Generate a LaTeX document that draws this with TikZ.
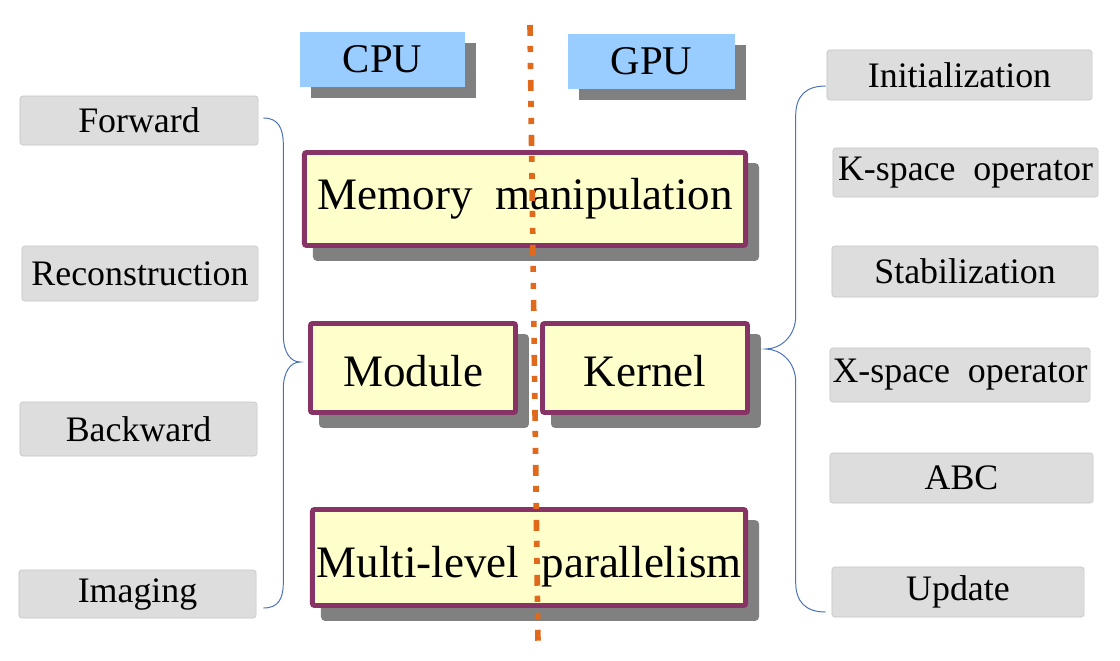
\documentclass[tikz,border=0pt]{standalone}
\usepackage{fontspec}
\setmainfont{Liberation Serif}
\usetikzlibrary{shadows,calc}
\definecolor{unitblue}{HTML}{99CCFF}
\definecolor{partpurple}{HTML}{883366}
\definecolor{partyellow}{HTML}{FFFFCC}
\definecolor{lblgray}{HTML}{DDDDDD}
\definecolor{lblline}{HTML}{C4C4C4}
\definecolor{braceblue}{HTML}{4A72B8}
\definecolor{seporange}{HTML}{E0691C}
\begin{document}
\begin{tikzpicture}[x=0.025cm,y=-0.025cm,
	lbl/.style={draw=lblline,fill=lblgray,rounded corners=2pt,inner sep=0pt,font=\fontsize{25.5}{28}\selectfont},
	unit/.style={fill=unitblue,inner sep=0pt,minimum height=1.375cm,font=\fontsize{29}{32}\selectfont,
		drop shadow={shadow xshift=0.275cm,shadow yshift=-0.275cm,fill=black!50,opacity=1}},
	part/.style={draw=partpurple,line width=3.5pt,fill=partyellow,rounded corners=1.5pt,inner sep=0pt,font=\fontsize{32}{36}\selectfont,
		drop shadow={shadow xshift=0.275cm,shadow yshift=-0.325cm,fill=black!50,draw=black!50,line width=3.5pt,opacity=1}},
	brace/.style={draw=braceblue,line width=0.7pt},
	sep/.style={draw=seporange,line width=4pt,dash pattern=on 7.8pt off 7.1pt on 4.3pt off 7.8pt on 4.3pt off 7.8pt}]
	\useasboundingbox (0,0) rectangle (1120,660);
	\node[unit,minimum width=4.125cm] (cpu) at (382.5,59.5) {CPU};
	\node[unit,minimum width=4.175cm] (gpu) at (651.5,61.5) {GPU};
	\node[part,minimum width=11.025cm,minimum height=2.325cm] (mem) at (525,199) {Memory~ manipulation};
	\node[part,minimum width=5.125cm,minimum height=2.225cm] (mod) at (413,368) {\raisebox{-2pt}[\height][\depth]{Module}};
	\node[part,minimum width=5.125cm,minimum height=2.225cm] (ker) at (645,368) {\raisebox{-2pt}[\height][\depth]{Kernel}};
	\node[part,minimum width=10.825cm,minimum height=2.4cm] (mlp) at (529,557.5) {\raisebox{-6.5pt}[\height][\depth]{Multi-level~ parallelism}};
	\node[lbl,minimum width=5.95cm,minimum height=1.225cm] (fwd) at (139,120.5) {Forward};
	\node[lbl,minimum width=5.9cm,minimum height=1.375cm] (rec) at (140,273.5) {Reconstruction};
	\node[lbl,minimum width=5.925cm,minimum height=1.35cm] (bwd) at (138.5,429) {Backward};
	\node[lbl,minimum width=5.925cm,minimum height=1.2cm] (img) at (137.5,594) {Imaging};
	\node[lbl,minimum width=6.625cm,minimum height=1.25cm] (init) at (959.5,75) {Initialization};
	\node[lbl,minimum width=6.625cm,minimum height=1.225cm] (ksp) at (965.5,172.5) {K-space~ operator};
	\node[lbl,minimum width=6.65cm,minimum height=1.275cm] (stab) at (965,271.5) {Stabilization};
	\node[lbl,minimum width=6.5cm,minimum height=1.35cm] (xsp) at (960,375) {X-space~ operator};
	\node[lbl,minimum width=6.575cm,minimum height=1.25cm] (abc) at (961.5,478) {ABC};
	\node[lbl,minimum width=6.3cm,minimum height=1.25cm] (upd) at (958,592) {Update};
	\coordinate (septop) at (530,25);
	\coordinate (sepbot) at (538,642);
	\draw[sep] (septop)--(sepbot);
	\draw[brace] ($(fwd.east)+(5,-2.5)$) .. controls +(15,0) and +(0,-17) .. ++(20,27)--++(0,190)
		.. controls +(0,17) and +(-10,0) .. ++(17,27) .. controls +(-10,0) and +(0,-17) .. ++(-17,27)--++(0,193)
		.. controls +(0,17) and +(15,0) .. ++(-20,26);
	\draw[brace] ($(init.west)+(-1,11)$) .. controls +(-20,0) and +(0,-20) .. ++(-30,30)--++(0,200)
		.. controls +(0,20) and +(15,0) .. ++(-30,33) .. controls +(15,0) and +(0,-20) .. ++(30,33)--++(0,200)
		.. controls +(0,20) and +(-20,0) .. ++(30,30);
\end{tikzpicture}
\end{document}
